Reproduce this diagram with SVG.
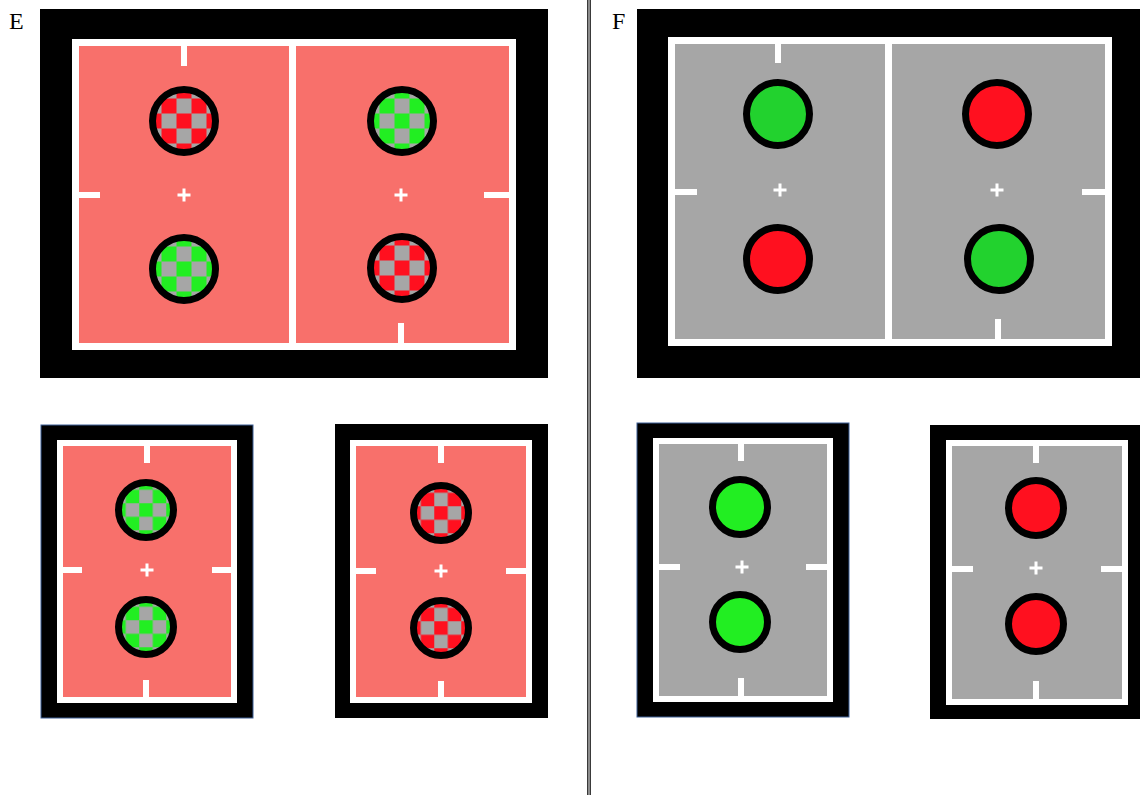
<svg xmlns="http://www.w3.org/2000/svg" width="1140" height="795" viewBox="0 0 1140 795">
<style>
.blk{fill:#000}
.blkb{fill:#000;stroke:#3d5f95;stroke-width:1}
.pinkf{fill:#f8706b;stroke:#fff}
.grayf{fill:#a6a6a6;stroke:#fff}
.tick{fill:#fff}
.plus{stroke:#fff;stroke-width:3;fill:none}
.c{stroke:#000;stroke-width:7}
.cs{stroke:#000;stroke-width:7}
.lbl{font-family:"Liberation Serif",serif;font-size:24px;fill:#000}
</style>
<defs>
<pattern id="chR" patternUnits="userSpaceOnUse" x="-7.5" y="-7.5" width="30" height="30">
<rect width="30" height="30" fill="#ff101f"/><rect x="15" y="0" width="15" height="15" fill="#a6a6a6"/><rect x="0" y="15" width="15" height="15" fill="#a6a6a6"/>
</pattern>
<pattern id="chG" patternUnits="userSpaceOnUse" x="-7.5" y="-7.5" width="30" height="30">
<rect width="30" height="30" fill="#22ee22"/><rect x="15" y="0" width="15" height="15" fill="#a6a6a6"/><rect x="0" y="15" width="15" height="15" fill="#a6a6a6"/>
</pattern>
<pattern id="chRs" patternUnits="userSpaceOnUse" x="-6.75" y="-6.75" width="27" height="27">
<rect width="27" height="27" fill="#ff101f"/><rect x="13.5" y="0" width="13.5" height="13.5" fill="#a6a6a6"/><rect x="0" y="13.5" width="13.5" height="13.5" fill="#a6a6a6"/>
</pattern>
<pattern id="chGs" patternUnits="userSpaceOnUse" x="-6.75" y="-6.75" width="27" height="27">
<rect width="27" height="27" fill="#22ee22"/><rect x="13.5" y="0" width="13.5" height="13.5" fill="#a6a6a6"/><rect x="0" y="13.5" width="13.5" height="13.5" fill="#a6a6a6"/>
</pattern>
<path id="pl" d="M-6.5,0H6.5M0,-6.5V6.5"/>
</defs>
<rect width="1140" height="795" fill="#fff"/>
<rect x="587" y="0" width="4" height="795" fill="#3a3a3a"/>
<rect x="588.3" y="0" width="1.4" height="795" fill="#b0b0b0"/>
<text class="lbl" x="9" y="29">E</text>
<text class="lbl" x="612" y="29">F</text>

<g id="E-main">
<rect class="blk" x="40" y="9" width="508" height="369"/>
<rect class="pinkf" x="75.5" y="42.5" width="437" height="304" stroke-width="7"/>
<rect class="tick" x="289" y="46" width="7" height="297"/>
<rect class="tick" x="181" y="46" width="6" height="20"/>
<rect class="tick" x="79" y="192" width="21" height="6"/>
<rect class="tick" x="484" y="192" width="25" height="6"/>
<rect class="tick" x="398" y="323" width="6" height="20"/>
<use href="#pl" class="plus" x="184" y="195"/>
<use href="#pl" class="plus" x="401" y="195"/>
<g transform="translate(184,121)"><circle class="c" r="31.5" fill="url(#chR)"/></g>
<g transform="translate(184,269)"><circle class="c" r="31.5" fill="url(#chG)"/></g>
<g transform="translate(402,121)"><circle class="c" r="31.5" fill="url(#chG)"/></g>
<g transform="translate(402,268)"><circle class="c" r="31.5" fill="url(#chR)"/></g>
</g>

<g id="E-left">
<rect class="blkb" x="41" y="425" width="212" height="293"/>
<rect class="pinkf" x="60" y="443" width="174" height="257" stroke-width="6"/>
<rect class="tick" x="144" y="446" width="6" height="17"/>
<rect class="tick" x="63" y="567" width="19" height="6"/>
<rect class="tick" x="212" y="567" width="19" height="6"/>
<rect class="tick" x="143" y="680" width="6" height="17"/>
<use href="#pl" class="plus" x="147" y="570"/>
<g transform="translate(146,510)"><circle class="cs" r="27.5" fill="url(#chGs)"/></g>
<g transform="translate(146,627)"><circle class="cs" r="27.5" fill="url(#chGs)"/></g>
</g>

<g id="E-right">
<rect class="blk" x="335" y="424" width="213" height="294"/>
<rect class="pinkf" x="353" y="443" width="176" height="257" stroke-width="6"/>
<rect class="tick" x="438" y="446" width="6" height="17"/>
<rect class="tick" x="356" y="568" width="20" height="6"/>
<rect class="tick" x="506" y="568" width="20" height="6"/>
<rect class="tick" x="438" y="681" width="6" height="16"/>
<use href="#pl" class="plus" x="441" y="571"/>
<g transform="translate(441,513)"><circle class="cs" r="27.5" fill="url(#chRs)"/></g>
<g transform="translate(441,628)"><circle class="cs" r="27.5" fill="url(#chRs)"/></g>
</g>

<g id="F-main">
<rect class="blk" x="637" y="9" width="503" height="369"/>
<rect class="grayf" x="671.5" y="40.5" width="437" height="302" stroke-width="7"/>
<rect class="tick" x="885" y="44" width="7" height="295"/>
<rect class="tick" x="775" y="44" width="6" height="19"/>
<rect class="tick" x="675" y="189" width="22" height="6"/>
<rect class="tick" x="1082" y="189" width="23" height="6"/>
<rect class="tick" x="995" y="319" width="6" height="20"/>
<use href="#pl" class="plus" x="780" y="190"/>
<use href="#pl" class="plus" x="997" y="190"/>
<circle class="c" cx="778" cy="114" r="31.5" fill="#22d22e"/>
<circle class="c" cx="778" cy="259" r="31.5" fill="#ff101f"/>
<circle class="c" cx="997" cy="114" r="31.5" fill="#ff101f"/>
<circle class="c" cx="999" cy="259" r="31.5" fill="#22d22e"/>
</g>

<g id="F-left">
<rect class="blkb" x="637" y="423" width="212" height="294"/>
<rect class="grayf" x="656" y="441" width="174" height="258" stroke-width="6"/>
<rect class="tick" x="738" y="444" width="6" height="17"/>
<rect class="tick" x="659" y="564" width="21" height="6"/>
<rect class="tick" x="806" y="564" width="21" height="6"/>
<rect class="tick" x="738" y="678" width="6" height="18"/>
<use href="#pl" class="plus" x="742" y="567"/>
<circle class="cs" cx="740" cy="507" r="27.5" fill="#22ee22"/>
<circle class="cs" cx="740" cy="622" r="27.5" fill="#22ee22"/>
</g>

<g id="F-right">
<rect class="blk" x="930" y="425" width="210" height="294"/>
<rect class="grayf" x="949" y="443" width="176" height="259" stroke-width="6"/>
<rect class="tick" x="1033" y="446" width="6" height="17"/>
<rect class="tick" x="952" y="566" width="21" height="6"/>
<rect class="tick" x="1101" y="566" width="21" height="6"/>
<rect class="tick" x="1033" y="681" width="6" height="18"/>
<use href="#pl" class="plus" x="1036" y="568"/>
<circle class="cs" cx="1036" cy="508" r="27.5" fill="#ff101f"/>
<circle class="cs" cx="1036" cy="624" r="27.5" fill="#ff101f"/>
</g>
</svg>
